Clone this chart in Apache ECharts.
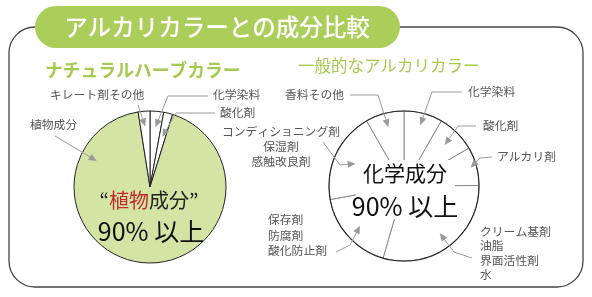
<!DOCTYPE html>
<html>
<head>
<meta charset="utf-8">
<script src="https://cdn.jsdelivr.net/npm/echarts@6/dist/echarts.min.js"></script>
<style>
  html, body { margin: 0; padding: 0; background: #fff; }
  #main { width: 592px; height: 297px; }
</style>
</head>
<body>
<div id="main"></div>
<script>
// データ
var title = 'アルカリカラーとの成分比較';
var herbTitle = 'ナチュラルハーブカラー';
var alkaliTitle = '一般的なアルカリカラー';

// 左：ナチュラルハーブカラー（12時から時計回り）
var herbNames = ['化学染料', '酸化剤', '植物成分', 'キレート剤その他'];
var herbValues = [2.9, 1.9, 92.7, 2.5];

// 右：一般的なアルカリカラー（12時から時計回り）
var alkaliNames = ['化学染料', '酸化剤', 'アルカリ剤', 'クリーム基剤\n油脂\n界面活性剤\n水',
  '保存剤\n防腐剤\n酸化防止剤', 'コンディショニング剤\n保湿剤\n感触改良剤', '香料その他'];
var alkaliValues = [8.3, 8.3, 8.3, 29.6, 17.6, 19.6, 8.3];

var herbCenterText = ['植物', '成分', '90% 以上'];
var alkaliCenterText = ['化学成分', '90% 以上'];

// レイアウト
var FONT = '"Noto Sans CJK JP", "Noto Sans", sans-serif';
var herbC = [150, 187], herbR = 76;
var alkC = [404, 186], alkR = 75;
var herbColors = ['#fff', '#fff', '#d4e4a5', '#fff'];
var lineGray = '#9a9a9a';
var labelGray = '#555';

function midAngles(values) {
  var total = values.reduce(function (a, b) { return a + b; }, 0);
  var acc = 0, mids = [];
  values.forEach(function (v) {
    mids.push((acc + v / 2) / total * 360);
    acc += v;
  });
  return mids;
}
function polar(c, r, deg) {
  var a = deg * Math.PI / 180;
  return [c[0] + r * Math.sin(a), c[1] - r * Math.cos(a)];
}

var herbMid = midAngles(herbValues);
var alkMid = midAngles(alkaliValues);

// 引き出し線 (ラベル側の点, 曲がり点, 先端半径比)
var leaders = [
  { pie: 'herb', i: 3, from: [138, 105], via: null, r: 0.8 },
  { pie: 'herb', i: 2, from: [55, 136], via: null, r: 0.78, angle: -64 },
  { pie: 'herb', i: 0, from: [208, 96], via: [168, 96], r: 0.79 },
  { pie: 'herb', i: 1, from: [215, 113], via: [176, 113], r: 0.68 },
  { pie: 'alk', i: 6, from: [350, 95], via: [378, 95], r: 0.81 },
  { pie: 'alk', i: 0, from: [462, 92], via: [432, 92], r: 0.84 },
  { pie: 'alk', i: 1, from: [476, 126], via: [458, 126], r: 0.77 },
  { pie: 'alk', i: 2, from: [492, 157], via: [480, 158], r: 0.92 },
  { pie: 'alk', i: 3, from: [472, 258], via: [454, 252], r: 0.79 },
  { pie: 'alk', i: 4, from: [336, 252], via: [350, 245], r: 0.79 },
  { pie: 'alk', i: 5, from: [323, 142], via: [340, 165], r: 0.71 }
];

var labelPos = {
  herb: [
    { x: 213, y: 95, align: 'left' },
    { x: 220, y: 113, align: 'left' },
    { x: 30, y: 125, align: 'left' },
    { x: 50, y: 95, align: 'left' }
  ],
  alk: [
    { x: 468, y: 92, align: 'left' },
    { x: 483, y: 126, align: 'left' },
    { x: 497, y: 157, align: 'left' },
    { x: 480, y: 224, align: 'left', top: true, lh: 14.5 },
    { x: 268, y: 212, align: 'left', top: true, lh: 15.5 },
    { x: 281, y: 124, align: 'center', top: true, lh: 15 },
    { x: 344, y: 95, align: 'right' }
  ]
};

var graphics = [];

// 枠
graphics.push({
  type: 'rect', z: 1,
  shape: { x: 9, y: 27, width: 574, height: 260, r: 26 },
  style: { fill: 'none', stroke: '#444', lineWidth: 1.3 }
});
graphics.push({
  type: 'rect', z: 2,
  shape: { x: 35, y: 6, width: 365, height: 42, r: 21 },
  style: { fill: '#abce5b' }
});
graphics.push({
  type: 'text', z: 3,
  style: { text: title, x: 217, y: 27, fill: '#fff', font: '500 23.5px ' + FONT,
    textAlign: 'center', textVerticalAlign: 'middle' }
});
graphics.push({
  type: 'text', z: 3,
  style: { text: herbTitle, x: 45, y: 70, fill: '#a6c94f', font: 'bold 17.8px ' + FONT,
    textAlign: 'left', textVerticalAlign: 'middle' }
});
graphics.push({
  type: 'text', z: 3,
  style: { text: alkaliTitle, x: 298, y: 66, fill: '#a6c94f', font: '16.5px ' + FONT,
    textAlign: 'left', textVerticalAlign: 'middle' }
});

// ラベル
['herb', 'alk'].forEach(function (k) {
  var names = k === 'herb' ? herbNames : alkaliNames;
  labelPos[k].forEach(function (p, i) {
    graphics.push({
      type: 'text', z: 20,
      style: {
        text: names[i], x: p.x, y: p.y, fill: labelGray,
        font: '11.8px ' + FONT, textAlign: p.align,
        textVerticalAlign: p.top ? 'top' : 'middle', lineHeight: p.lh || 14
      }
    });
  });
});

// 矢印
leaders.forEach(function (l) {
  var c = l.pie === 'herb' ? herbC : alkC;
  var R = l.pie === 'herb' ? herbR : alkR;
  var ang = l.angle != null ? l.angle : (l.pie === 'herb' ? herbMid : alkMid)[l.i];
  var tip = polar(c, R * l.r, ang);
  var pts = [l.from];
  if (l.via) pts.push(l.via);
  var prev = pts[pts.length - 1];
  var dx = tip[0] - prev[0], dy = tip[1] - prev[1];
  var len = Math.sqrt(dx * dx + dy * dy);
  var ux = dx / len, uy = dy / len;
  var bx = tip[0] - ux * 8, by = tip[1] - uy * 8;
  pts.push([bx, by]);
  graphics.push({
    type: 'polyline', z: 15,
    shape: { points: pts },
    style: { stroke: lineGray, lineWidth: 1, fill: null }
  });
  graphics.push({
    type: 'polygon', z: 15,
    shape: { points: [tip, [bx - uy * 3.5, by + ux * 3.5], [bx + uy * 3.5, by - ux * 3.5]] },
    style: { fill: lineGray }
  });
});

// 中央テキスト
graphics.push({
  type: 'text', z: 30,
  style: {
    text: '{q|“}{r|' + herbCenterText[0] + '}{b|' + herbCenterText[1] + '}{q|”}',
    x: 149, y: 200, textAlign: 'center', textVerticalAlign: 'middle',
    rich: {
      q: { fill: '#222', font: '20px ' + FONT },
      r: { fill: '#c22a26', font: '20px ' + FONT },
      b: { fill: '#222', font: '20px ' + FONT }
    }
  }
});
graphics.push({
  type: 'text', z: 30,
  style: { text: herbCenterText[2], x: 151, y: 231, fill: '#111', font: '25px ' + FONT,
    textAlign: 'center', textVerticalAlign: 'middle' }
});
// 右円の中央テキスト背景（放射線を文字の手前で止める）
graphics.push({
  type: 'rect', z: 25,
  shape: { x: 356, y: 160, width: 99, height: 59 },
  style: { fill: '#fff' }
});
alkaliCenterText.forEach(function (t, i) {
  var y = i === 0 ? 173 : 206;
  var f = (i === 0 ? '21px ' : '25px ') + FONT;
  graphics.push({
    type: 'text', z: 30,
    style: { text: t, x: 405, y: y, fill: '#111', font: f,
      textAlign: 'center', textVerticalAlign: 'middle' }
  });
});

var chart = echarts.init(document.getElementById('main'));
chart.setOption({
  animation: false,
  backgroundColor: '#fff',
  series: [
    {
      name: herbTitle, type: 'pie', center: herbC, radius: [0, herbR],
      startAngle: 90, clockwise: true, silent: true,
      label: { show: false }, labelLine: { show: false },
      itemStyle: { borderColor: '#222', borderWidth: 1 },
      data: herbNames.map(function (n, i) {
        return { name: n, value: herbValues[i], itemStyle: { color: herbColors[i] } };
      })
    },
    {
      name: alkaliTitle, type: 'pie', center: alkC, radius: [22, alkR],
      startAngle: 90, clockwise: true, silent: true,
      label: { show: false }, labelLine: { show: false },
      itemStyle: { color: '#fff', borderColor: '#8a8a8a', borderWidth: 1 },
      data: alkaliNames.map(function (n, i) {
        return { name: n, value: alkaliValues[i] };
      })
    },
    {
      type: 'pie', center: alkC, radius: [0, 22.6], silent: true, z: 3,
      label: { show: false }, labelLine: { show: false },
      itemStyle: { color: '#fff', borderWidth: 0 },
      data: [{ value: 1 }]
    },
    {
      type: 'pie', center: alkC, radius: [0, alkR], silent: true, z: 4,
      label: { show: false }, labelLine: { show: false },
      itemStyle: { color: 'rgba(0,0,0,0)', borderColor: '#222', borderWidth: 1.1 },
      data: [{ value: 1 }]
    }
  ],
  graphic: { elements: graphics }
});
</script>
</body>
</html>
